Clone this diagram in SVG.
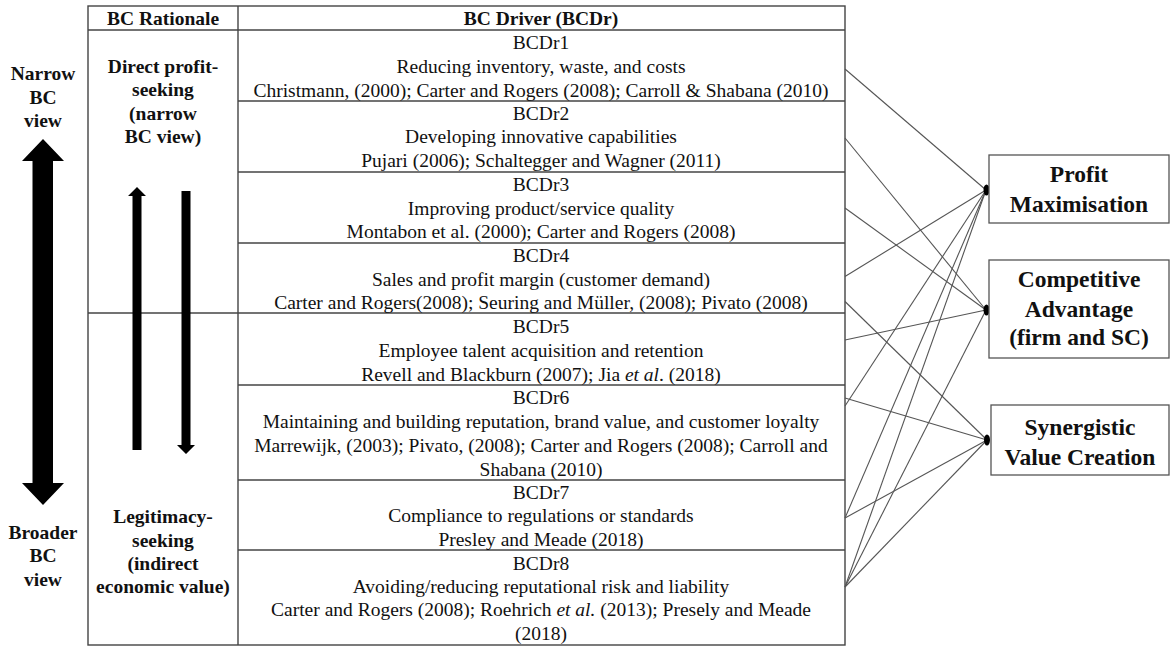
<svg xmlns="http://www.w3.org/2000/svg" width="1171" height="648" viewBox="0 0 1171 648">
  <style>
    .grid { stroke: #444; stroke-width: 1.4; fill: none; }
    .t { font-family: "Liberation Serif", "Times New Roman", serif; font-size: 19.5px; fill: #111; text-anchor: middle; }
    .b { font-weight: bold; }
    .big { font-family: "Liberation Serif", "Times New Roman", serif; font-size: 23.5px; font-weight: bold; fill: #111; text-anchor: middle; }
    .box { fill: #fff; stroke: #555; stroke-width: 1.3; }
    .link { stroke: #555; stroke-width: 1.1; fill: none; }
    .dot { fill: #000; }
    .arrow { fill: #000; }
  </style>

  <rect width="1171" height="648" fill="#fff"/>

  <!-- scale arrow: narrow to broader view -->
  <g id="view-scale">
    <polygon class="arrow" points="43,139 64,161 53,161 53,483 64,483 43,505 22,483 32.5,483 32.5,161 22,161"/>
    <text class="t b" x="43" y="80">Narrow</text>
    <text class="t b" x="43" y="104">BC</text>
    <text class="t b" x="43" y="127">view</text>
    <text class="t b" x="43" y="539">Broader</text>
    <text class="t b" x="43" y="562">BC</text>
    <text class="t b" x="43" y="586">view</text>
  </g>

  <!-- table frame -->
  <g id="table">
    <rect class="grid" x="88" y="6" width="757" height="639"/>
    <line class="grid" x1="88" y1="30" x2="845" y2="30"/>
    <line class="grid" x1="238" y1="6" x2="238" y2="645"/>
    <line class="grid" x1="238" y1="101" x2="845" y2="101"/>
    <line class="grid" x1="238" y1="172" x2="845" y2="172"/>
    <line class="grid" x1="238" y1="243" x2="845" y2="243"/>
    <line class="grid" x1="88" y1="313" x2="845" y2="313"/>
    <line class="grid" x1="238" y1="385" x2="845" y2="385"/>
    <line class="grid" x1="238" y1="480" x2="845" y2="480"/>
    <line class="grid" x1="238" y1="550" x2="845" y2="550"/>
    <text class="t b" x="163" y="25">BC Rationale</text>
    <text class="t b" x="541" y="25">BC Driver (BCDr)</text>
  </g>

  <!-- rationale column -->
  <g id="rationale-direct">
    <text class="t b" x="163" y="73">Direct profit-</text>
    <text class="t b" x="163" y="96">seeking</text>
    <text class="t b" x="163" y="120">(narrow</text>
    <text class="t b" x="163" y="143">BC view)</text>
  </g>
  <g id="rationale-legitimacy">
    <text class="t b" x="163" y="523">Legitimacy-</text>
    <text class="t b" x="163" y="547">seeking</text>
    <text class="t b" x="163" y="570">(indirect</text>
    <text class="t b" x="163" y="593">economic value)</text>
  </g>
  <g id="rationale-arrows">
    <polygon class="arrow" points="137,187 146,196 141.5,196 141.5,450 132.5,450 132.5,196 128,196"/>
    <polygon class="arrow" points="181.5,191 190.5,191 190.5,445 195,445 186,454 177,445 181.5,445"/>
  </g>

  <!-- drivers -->
  <g id="BCDr1">
    <text class="t" x="541" y="49">BCDr1</text>
    <text class="t" x="541" y="73">Reducing inventory, waste, and costs</text>
    <text class="t" x="541" y="96.5">Christmann, (2000); Carter and Rogers (2008); Carroll &amp; Shabana (2010)</text>
  </g>
  <g id="BCDr2">
    <text class="t" x="541" y="119.5">BCDr2</text>
    <text class="t" x="541" y="143">Developing innovative capabilities</text>
    <text class="t" x="541" y="166.5">Pujari (2006); Schaltegger and Wagner (2011)</text>
  </g>
  <g id="BCDr3">
    <text class="t" x="541" y="190.5">BCDr3</text>
    <text class="t" x="541" y="214.5">Improving product/service quality</text>
    <text class="t" x="541" y="238">Montabon et al. (2000); Carter and Rogers (2008)</text>
  </g>
  <g id="BCDr4">
    <text class="t" x="541" y="261.5">BCDr4</text>
    <text class="t" x="541" y="285.5">Sales and profit margin (customer demand)</text>
    <text class="t" x="541" y="309">Carter and Rogers(2008); Seuring and Müller, (2008); Pivato (2008)</text>
  </g>
  <g id="BCDr5">
    <text class="t" x="541" y="333">BCDr5</text>
    <text class="t" x="541" y="357">Employee talent acquisition and retention</text>
    <text class="t" x="541" y="380.5">Revell and Blackburn (2007); Jia <tspan font-style="italic">et al</tspan>. (2018)</text>
  </g>
  <g id="BCDr6">
    <text class="t" x="541" y="404">BCDr6</text>
    <text class="t" x="541" y="428">Maintaining and building reputation, brand value, and customer loyalty</text>
    <text class="t" x="541" y="451.5">Marrewijk, (2003); Pivato, (2008); Carter and Rogers (2008); Carroll and</text>
    <text class="t" x="541" y="475.5">Shabana (2010)</text>
  </g>
  <g id="BCDr7">
    <text class="t" x="541" y="498.5">BCDr7</text>
    <text class="t" x="541" y="522">Compliance to regulations or standards</text>
    <text class="t" x="541" y="545.5">Presley and Meade (2018)</text>
  </g>
  <g id="BCDr8">
    <text class="t" x="541" y="569.5">BCDr8</text>
    <text class="t" x="541" y="593">Avoiding/reducing reputational risk and liability</text>
    <text class="t" x="541" y="616">Carter and Rogers (2008); Roehrich <tspan font-style="italic">et al.</tspan> (2013); Presely and Meade</text>
    <text class="t" x="541" y="639.5">(2018)</text>
  </g>

  <!-- connectors from drivers to outcomes -->
  <g id="connectors">
    <line class="link" x1="845" y1="69" x2="986" y2="190"/>
    <line class="link" x1="845" y1="138" x2="986" y2="310"/>
    <line class="link" x1="845" y1="208" x2="986" y2="310"/>
    <line class="link" x1="845" y1="276.5" x2="986" y2="190"/>
    <line class="link" x1="845" y1="301.5" x2="987" y2="440"/>
    <line class="link" x1="845" y1="340" x2="986" y2="310"/>
    <line class="link" x1="845" y1="398" x2="987" y2="440"/>
    <line class="link" x1="845" y1="406" x2="986" y2="190"/>
    <line class="link" x1="845" y1="518" x2="986" y2="190"/>
    <line class="link" x1="845" y1="518" x2="987" y2="440"/>
    <line class="link" x1="845" y1="587" x2="986" y2="190"/>
    <line class="link" x1="845" y1="587" x2="986" y2="310"/>
    <line class="link" x1="845" y1="587" x2="987" y2="440"/>
    <ellipse class="dot" cx="986.5" cy="190" rx="3" ry="5.5"/>
    <ellipse class="dot" cx="986.5" cy="310" rx="3" ry="5.5"/>
    <ellipse class="dot" cx="987" cy="440" rx="3" ry="5.5"/>
  </g>

  <!-- outcomes -->
  <g id="profit-maximisation">
    <rect class="box" x="989" y="155" width="180" height="68"/>
    <text class="big" x="1079" y="182">Profit</text>
    <text class="big" x="1079" y="212">Maximisation</text>
  </g>
  <g id="competitive-advantage">
    <rect class="box" x="989" y="260" width="180" height="98"/>
    <text class="big" x="1079" y="287">Competitive</text>
    <text class="big" x="1079" y="316.5">Advantage</text>
    <text class="big" x="1079" y="345">(firm and SC)</text>
  </g>
  <g id="synergistic-value-creation">
    <rect class="box" x="991" y="405" width="178" height="70"/>
    <text class="big" x="1080" y="435">Synergistic</text>
    <text class="big" x="1080" y="465">Value Creation</text>
  </g>
</svg>
